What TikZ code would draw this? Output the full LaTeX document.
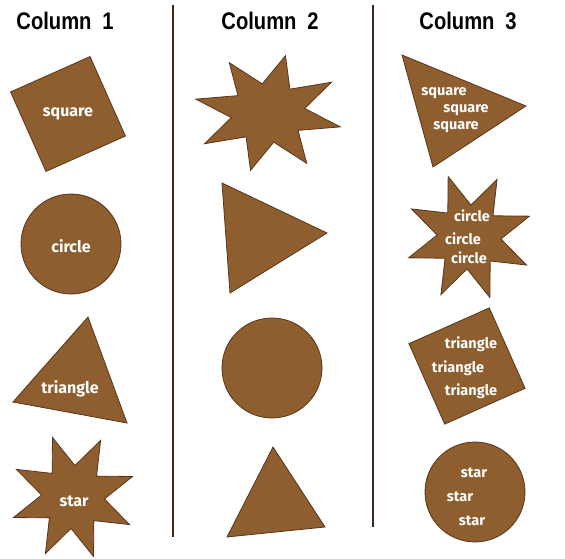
\documentclass[tikz,border=0pt]{standalone}
\usepackage{fontspec}
\newfontfamily\headfont{Liberation Sans}[FakeStretch=0.84]
\newfontfamily\tagfont{Fira Sans}
\usetikzlibrary{shapes.geometric}
\definecolor{tilefill}{RGB}{142,94,46}
\definecolor{tileedge}{RGB}{88,54,28}
\definecolor{rulecol}{RGB}{60,42,32}

\begin{document}
\begin{tikzpicture}[x=1pt,y=-1pt,tile/.style={fill=tilefill,draw=tileedge,line width=0.8pt,inner sep=0pt},tag/.style={text=white,inner sep=0pt,font=\tagfont\bfseries\fontsize{16}{16}\selectfont},tagrow/.style={tag,font=\tagfont\bfseries\fontsize{14.5}{14.5}\selectfont},heading/.style={font=\headfont\bfseries\fontsize{24}{24}\selectfont},divider/.style={draw=rulecol,line width=1.5pt}]
\useasboundingbox (0,0) rectangle (565,559);
% column dividers
\coordinate (div1top) at (173,5);
\coordinate (div1bot) at (173,537);
\coordinate (div2top) at (373,5);
\coordinate (div2bot) at (373,527);
\draw[divider] (div1top) -- (div1bot);
\draw[divider] (div2top) -- (div2bot);
\node[heading] (head1) at (65,21) {Column\hspace{0.45em}1};
\node[heading] (head2) at (270,21) {Column\hspace{0.45em}2};
\node[heading] (head3) at (468,21) {Column\hspace{0.45em}3};
% column 1
\coordinate (tri1a) at (88,317);
\coordinate (tri1b) at (13,402);
\coordinate (tri1c) at (127,423);
\node[tile,rectangle,minimum size=87pt,rotate=24] (square1) at (68,114) {};
\node[tile,circle,minimum size=100pt] (circle1) at (71,244) {};
\draw[tile] (tri1a) -- (tri1b) -- (tri1c) -- cycle;
\node[tile,star,star points=8,star point ratio=2,minimum size=126pt,rotate=19] (star1) at (73,497) {};
\node[tag] (lsquare1) at (68,114) {square};
\node[tag] (lcircle1) at (71,246) {circle};
\node[tag] (ltriangle1) at (70,389) {triangle};
\node[tag] (lstar1) at (74,501) {star};
% column 2
\coordinate (tri2a) at (222,183);
\coordinate (tri2b) at (327,233);
\coordinate (tri2c) at (230,293);
\coordinate (tri3a) at (273,447);
\coordinate (tri3b) at (325,527);
\coordinate (tri3c) at (227,537);
\node[tile,star,star points=8,star point ratio=2,minimum size=118pt,xscale=1.26,rotate=-13.6] (star2) at (268,113) {};
\draw[tile] (tri2a) -- (tri2b) -- (tri2c) -- cycle;
\node[tile,circle,minimum size=100pt] (circle2) at (272,368) {};
\draw[tile] (tri3a) -- (tri3b) -- (tri3c) -- cycle;
% column 3
\coordinate (tri4a) at (402,55);
\coordinate (tri4b) at (526,106);
\coordinate (tri4c) at (433,167);
\draw[tile] (tri4a) -- (tri4b) -- (tri4c) -- cycle;
\node[tile,star,star points=8,star point ratio=2,minimum size=128pt,rotate=19] (star3) at (469,237) {};
\node[tile,rectangle,minimum size=88pt,rotate=24] (square3) at (467,366) {};
\node[tile,circle,minimum size=100pt] (circle3) at (475,492) {};
\node[tagrow] (lsquare3a) at (444,93) {square};
\node[tagrow] (lsquare3b) at (466,110) {square};
\node[tagrow] (lsquare3c) at (456,127) {square};
\node[tagrow] (lcircle3a) at (472,216) {circle};
\node[tagrow] (lcircle3b) at (463,239) {circle};
\node[tagrow] (lcircle3c) at (469,258) {circle};
\node[tagrow] (ltriangle3a) at (471,344) {triangle};
\node[tagrow] (ltriangle3b) at (458,368) {triangle};
\node[tagrow] (ltriangle3c) at (471,391) {triangle};
\node[tagrow] (lstar3a) at (474,473) {star};
\node[tagrow] (lstar3b) at (460,497) {star};
\node[tagrow] (lstar3c) at (472,521) {star};
\end{tikzpicture}
\end{document}
